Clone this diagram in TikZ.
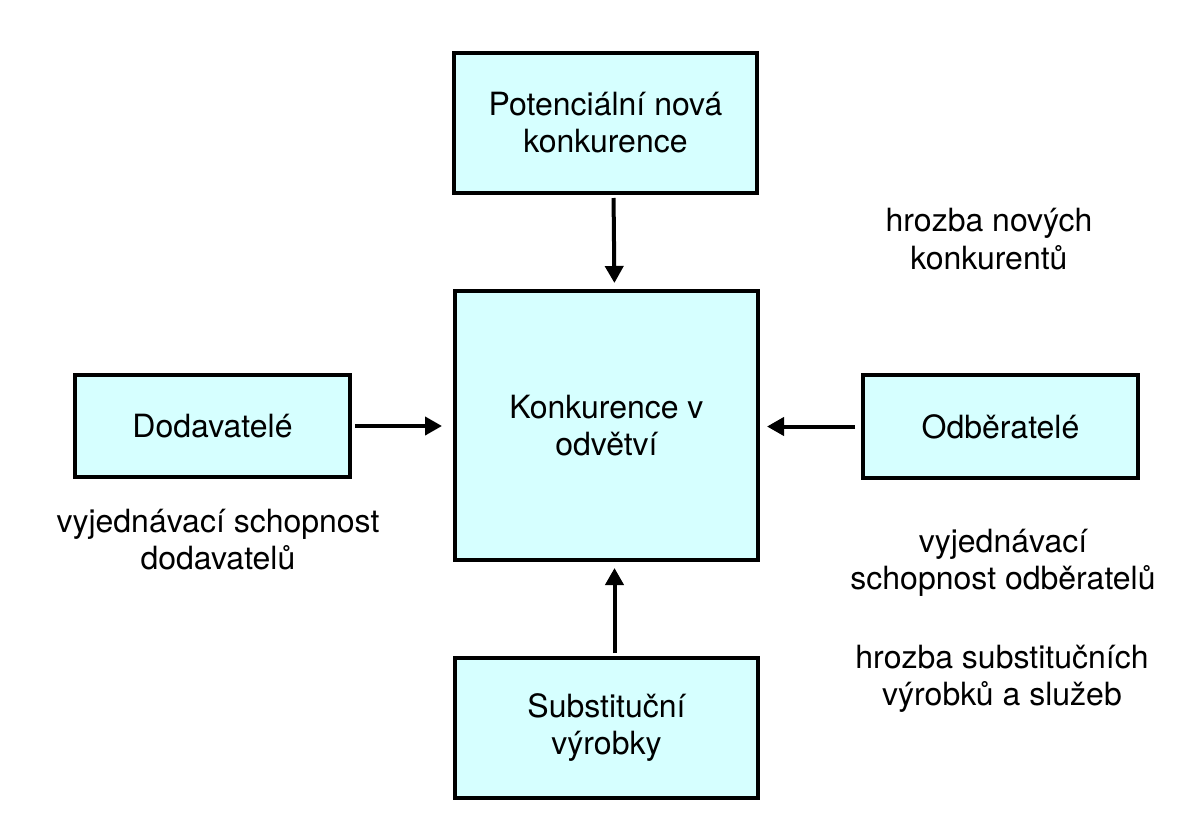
\documentclass[tikz,border=0pt]{standalone}
\usepackage{fontspec}
\setmainfont{TeX Gyre Heros}
\usetikzlibrary{arrows.meta}
\definecolor{boxcyan}{RGB}{214,255,255}
\begin{document}
\begin{tikzpicture}[x=0.5pt, y=-0.5pt]
        \tikzset{box/.style={draw, line width=2pt, fill=boxcyan, inner sep=0pt, outer sep=0pt, align=center, font=\fontsize{16}{18.5}\selectfont}}
        \tikzset{arr/.style={line width=2pt, -{Triangle[length=8.5pt, width=9pt]}}}
        \tikzset{note/.style={align=center, inner sep=0pt, font=\fontsize{16}{18.5}\selectfont}}
        \useasboundingbox (0, 0) rectangle (1195, 835);
        % the five forces
        \node[box, minimum width=151.5pt, minimum height=70pt] (nova) at (605.5, 123) {Potenciální nová\\konkurence};
        \node[box, minimum width=151.5pt, minimum height=134.5pt] (konk) at (606.5, 425.5) {Konkurence v\\odvětví};
        \node[box, minimum width=137.5pt, minimum height=51pt] (dod) at (212.5, 426) {Dodavatelé};
        \node[box, minimum width=137.5pt, minimum height=51.5pt] (odb) at (1000.5, 426.5) {Odběratelé};
        \node[box, minimum width=151.5pt, minimum height=70pt] (sub) at (606.5, 728) {Substituční\\výrobky};
        % arrows into the centre
        \draw[arr, shorten <=2.5pt, shorten >=4pt] ([xshift=4pt]nova.south) -- ([xshift=4pt]konk.north);
        \draw[arr, shorten <=2.5pt, shorten >=6.5pt] (dod.east) -- (dod.east -| konk.west);
        \draw[arr, shorten <=4pt, shorten >=4.5pt] (odb.west) -- (odb.west -| konk.east);
        \draw[arr, shorten <=2.5pt, shorten >=4pt] ([xshift=4pt]sub.north) -- ([xshift=4pt]konk.south);
        % labels
        \node[note, font=\fontsize{16}{19}\selectfont] (hnk) at (989, 239.5) {hrozba nových\\konkurentů};
        \node[note] (vsd) at (218, 540) {vyjednávací schopnost\\dodavatelů};
        \node[note] (vso) at (1003, 563) {vyjednávací\\schopnost odběratelů};
        \node[note] (hsv) at (1002, 678.5) {hrozba substitučních\\výrobků a služeb};
\end{tikzpicture}
\end{document}
